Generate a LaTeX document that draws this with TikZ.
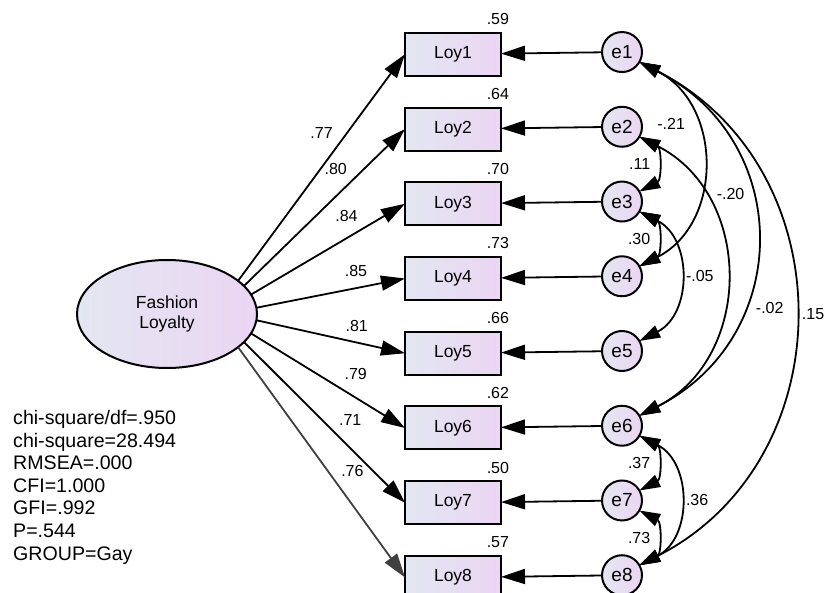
\documentclass[tikz,border=0pt]{standalone}
\usepackage{fontspec}
\setmainfont{Liberation Sans}
\usepackage{xcolor}
\usetikzlibrary{matrix,shapes.geometric,arrows.meta}

\definecolor{amosgrey}{HTML}{E3E7F1}
\definecolor{amoslilac}{HTML}{EBD5F3}

\tikzset{
    obs/.style={draw,line width=2pt,minimum width=96pt,minimum height=43pt,inner sep=2pt,outer sep=0pt,left color=amosgrey,right color=amoslilac},
    err/.style={circle,draw,line width=2pt,minimum size=40pt,inner sep=0pt,outer sep=0pt,left color=amosgrey,right color=amoslilac,font=\fontsize{19}{22}\selectfont},
    est/.style={draw=none,shade=false,minimum size=0pt,inner sep=1pt,text=black,font=\fontsize{16}{18}\selectfont},
    smc/.style={label={[est,overlay,anchor=south east,xshift=9pt,yshift=7pt]north east:#1}},
    arr/.style={-{Triangle[length=24pt,width=15pt]},line width=1.8pt},
    cov/.style={{Triangle[length=21pt,width=13pt]}-{Triangle[length=21pt,width=13pt]},line width=1.8pt,out=-27,in=27,looseness=1.18}
}

\begin{document}
\begin{tikzpicture}[x=1pt,y=1pt,font=\fontsize{17.5}{20}\selectfont]
    \useasboundingbox (0,0) rectangle (827,-593);
    \matrix (m) [matrix of nodes,row sep=29pt,column sep=99pt,inner sep=0pt,
        column 1/.style={nodes={obs}},column 2/.style={nodes={err}}] at (523.5,-315.5)
    {
      |[smc=.59]| Loy1 & e1 \\
      |[smc=.64]| Loy2 & e2 \\
      |[smc=.70]| Loy3 & e3 \\
      |[smc=.73]| Loy4 & e4 \\
      |[smc=.66]| Loy5 & e5 \\
      |[smc=.62]| Loy6 & e6 \\
      |[smc=.50]| Loy7 & e7 \\
      |[smc=.57]| Loy8 & e8 \\
    };
    \node[ellipse,draw,line width=2pt,minimum width=180pt,minimum height=108pt,outer sep=0pt,
        left color=amosgrey,right color=amoslilac,align=center] (fl) at (167,-314) {Fashion\\Loyalty};
    \node[anchor=north west,align=left,inner sep=0pt,font=\fontsize{19.6}{22.6}\selectfont] (fit) at (13,-410)
        {chi-square/df=.950\\chi-square=28.494\\RMSEA=.000\\CFI=1.000\\GFI=.992\\P=.544\\GROUP=Gay};
    \path[arr]
    (fl.25) edge node[est,pos=0.5,above=27pt] {.77} (m-1-1.west)
    (fl.20) edge node[est,pos=0.57,above=20pt] {.80} (m-2-1.west)
    (fl.13) edge node[est,pos=0.62,above=14.6pt] {.84} (m-3-1.west)
    (fl.4) edge node[est,pos=0.67,above=9.8pt] {.85} (m-4-1.west)
    (fl.-4) edge node[est,pos=0.675,above=8.7pt] {.81} (m-5-1.west)
    (fl.-13) edge node[est,pos=0.68,above=15.7pt] {.79} (m-6-1.west)
    (fl.-20) edge node[est,pos=0.66,above=20.7pt] {.71} (m-7-1.west)
    (fl.-25) edge[black!75] node[est,pos=0.685,above=26pt] {.76} (m-8-1.west)
    (m-1-2) edge (m-1-1)
    (m-2-2) edge (m-2-1)
    (m-3-2) edge (m-3-1)
    (m-4-2) edge (m-4-1)
    (m-5-2) edge (m-5-1)
    (m-6-2) edge (m-6-1)
    (m-7-2) edge (m-7-1)
    (m-8-2) edge (m-8-1);
    \path[cov]
    (m-1-2.-30) edge node[est,pos=0.33,left=8pt] {-.21} (m-4-2.30)
    (m-2-2.-30) edge node[est,left=4pt] {.11} (m-3-2.30)
    (m-3-2.-30) edge node[est,left=4pt] {.30} (m-4-2.30)
    (m-2-2.-30) edge node[est,pos=0.24,right=13pt] {-.20} (m-6-2.30)
    (m-3-2.-30) edge node[est,right=5pt] {-.05} (m-5-2.30)
    (m-1-2.-30) edge[looseness=1.26] node[est,pos=0.67,right=12pt] {-.02} (m-6-2.30)
    (m-1-2.-30) edge node[est,right=6pt] {.15} (m-8-2.30)
    (m-6-2.-30) edge node[est,left=4pt] {.37} (m-7-2.30)
    (m-6-2.-30) edge node[est,right=5pt] {.36} (m-8-2.30)
    (m-7-2.-30) edge node[est,left=4pt] {.73} (m-8-2.30);
\end{tikzpicture}
\end{document}
